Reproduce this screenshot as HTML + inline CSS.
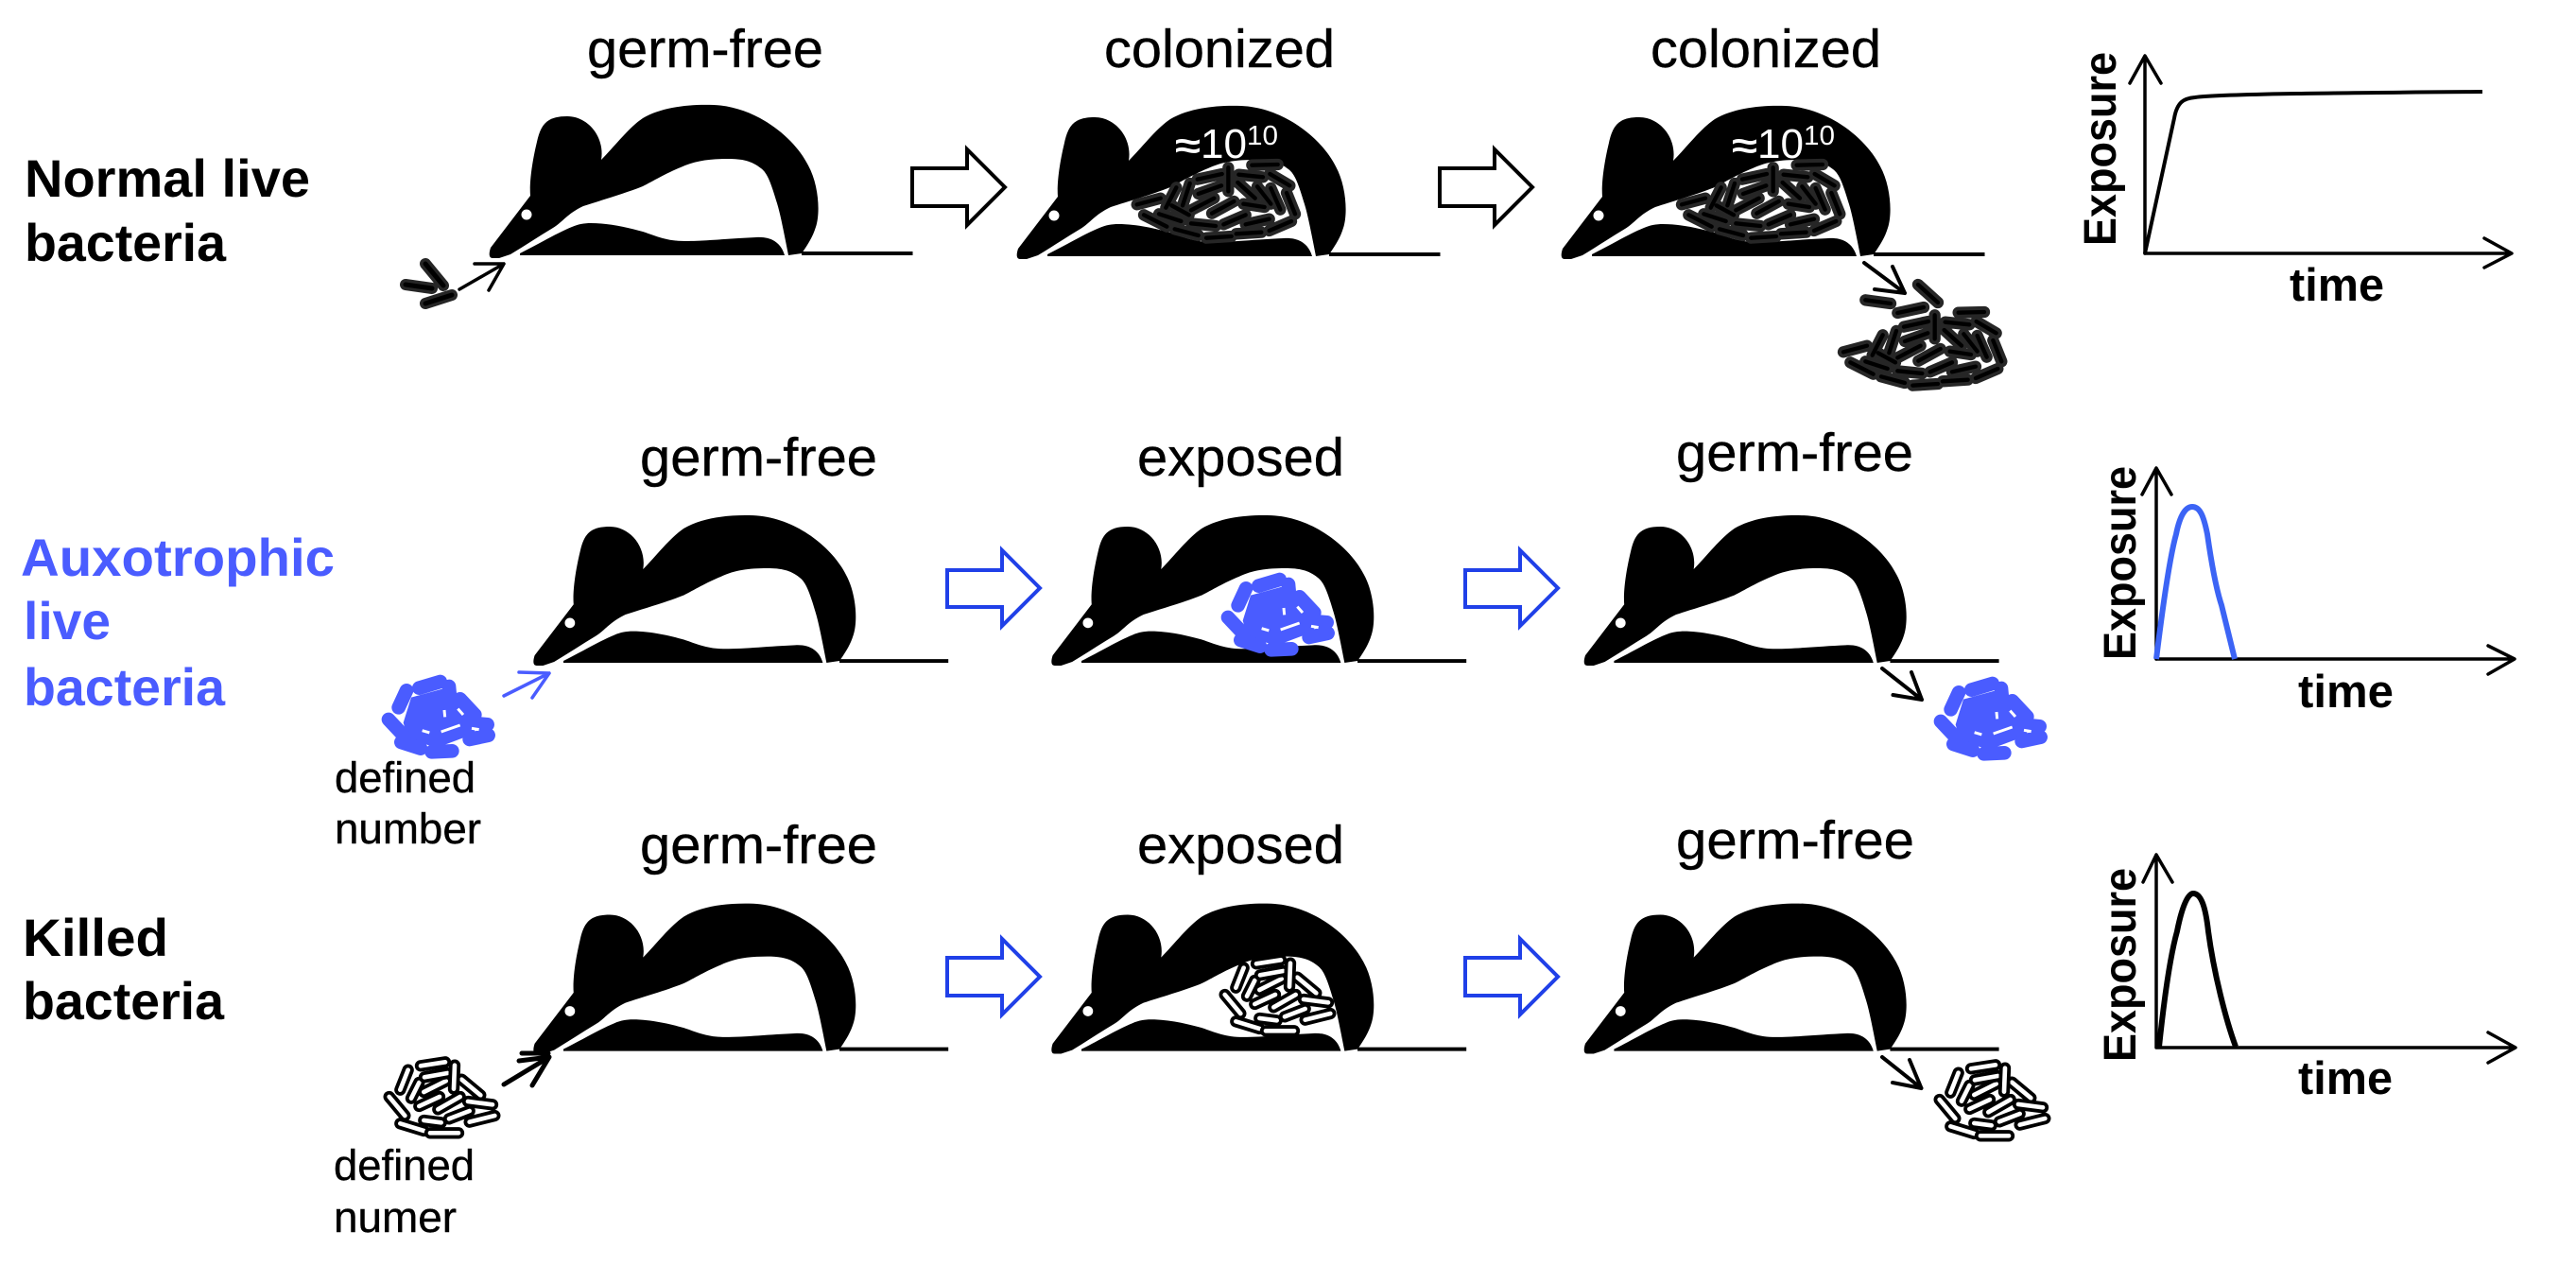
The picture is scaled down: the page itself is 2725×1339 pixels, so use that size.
<!DOCTYPE html>
<html><head><meta charset="utf-8"><style>
html,body{margin:0;padding:0;background:#fff}
svg{display:block}
text{font-family:"Liberation Sans",sans-serif}
.t{font-size:57px;fill:#000;stroke:#000;stroke-width:.4}
.b{font-size:56px;font-weight:bold;fill:#000}
.bl{font-size:56px;font-weight:bold;fill:#4a5cff}
.d{font-size:45px;fill:#000;stroke:#000;stroke-width:.4}
.ex{font-size:48px;font-weight:bold;fill:#000}
.ti{font-size:49px;font-weight:bold;fill:#000}
.w{fill:#fff}
.a{fill:none;stroke:#000;stroke-linecap:round;stroke-linejoin:round}
</style></head><body>
<svg xmlns="http://www.w3.org/2000/svg" width="2725" height="1339" viewBox="0 0 2725 1339">
<defs>
<g id="mouse">
<path fill="#000" d="M521 273C517 273 517 268 519 262L561 207C560 195 562 175 568 150C572 132 578 123 600 123C622 123 640 145 636 169C650 155 665 135 680 125C700 113 730 110 755 111C800 113 840 145 855 175C866 195 868 225 863 240C860 250 855 258 848 268L834 270C830 250 826 228 822 215C816 195 812 183 805 178C795 170 785 168 770 168C750 168 735 170 720 177C705 183 690 192 680 197C660 205 635 212 617 218C600 226 595 235 585 241C570 250 555 260 540 269L528 273Z"/>
<path fill="#000" d="M550 268C570 258 590 246 605 240C612 237 618 236 625 236C645 236 665 241 680 245C695 250 705 255 725 255C745 255 775 252 800 251C815 250 826 256 830 270L550 270Z"/>
<circle cx="557" cy="227" r="5.5" fill="#fff"/>
<path d="M848 268H965.5" stroke="#000" stroke-width="4" fill="none"/>
</g>
<path id="cb" d="M425 167L507 165M383 197L460 205M482 195L545 232M350 175L350 250M252 212L330 195M255 258L328 232M228 225L205 295M185 238L152 302M60 292L135 272M380 222L435 272M442 235L485 290M485 240L515 308M535 255L562 322M232 310L305 272M298 320L368 282M398 290L465 300M335 355L405 325M405 355L480 338M480 375L550 345M375 385L455 380M280 398L360 393M180 370L255 390M232 352L310 360M130 322L200 345M82 325L155 362M170 295L225 325"/>
<path id="cfree" d="M130 127L210 138M232 168L315 150M297 78L360 135"/>
<g id="blackcol" fill="none" stroke-linecap="round">
<use href="#cb" stroke="#262626" stroke-width="37"/>
<use href="#cb" stroke="#000" stroke-width="13"/>
</g>
<g id="freecol" fill="none" stroke-linecap="round">
<use href="#cfree" stroke="#262626" stroke-width="37"/>
<use href="#cfree" stroke="#000" stroke-width="13"/>
</g>
<g id="whitecol" fill="none" stroke-linecap="round">
<g stroke-width="37">
<path stroke="#000" d="M160 225L215 232"/><path stroke="#fff" stroke-width="14" d="M160 225L215 232"/>
<path stroke="#000" d="M110 65L85 128"/><path stroke="#fff" stroke-width="14" d="M110 65L85 128"/>
<path stroke="#000" d="M145 105L120 155"/><path stroke="#fff" stroke-width="14" d="M145 105L120 155"/>
<path stroke="#000" d="M280 95L340 145"/><path stroke="#fff" stroke-width="14" d="M280 95L340 145"/>
<path stroke="#000" d="M50 150L100 210"/><path stroke="#fff" stroke-width="14" d="M50 150L100 210"/>
<path stroke="#000" d="M160 135L230 100"/><path stroke="#fff" stroke-width="14" d="M160 135L230 100"/>
<path stroke="#000" d="M162 88L235 75"/><path stroke="#fff" stroke-width="14" d="M162 88L235 75"/>
<path stroke="#000" d="M258 50L255 125"/><path stroke="#fff" stroke-width="14" d="M258 50L255 125"/>
<path stroke="#000" d="M150 52L228 40"/><path stroke="#fff" stroke-width="14" d="M150 52L228 40"/>
<path stroke="#000" d="M145 180L210 150"/><path stroke="#fff" stroke-width="14" d="M145 180L210 150"/>
<path stroke="#000" d="M300 165L378 175"/><path stroke="#fff" stroke-width="14" d="M300 165L378 175"/>
<path stroke="#000" d="M205 190L275 150"/><path stroke="#fff" stroke-width="14" d="M205 190L275 150"/>
<path stroke="#000" d="M305 230L385 210"/><path stroke="#fff" stroke-width="14" d="M305 230L385 210"/>
<path stroke="#000" d="M240 220L305 195"/><path stroke="#fff" stroke-width="14" d="M240 220L305 195"/>
<path stroke="#000" d="M85 235L160 258"/><path stroke="#fff" stroke-width="14" d="M85 235L160 258"/>
<path stroke="#000" d="M180 265L270 265"/><path stroke="#fff" stroke-width="14" d="M180 265L270 265"/>
</g></g>
<g id="bluecol" fill="none" stroke-linecap="round">
<path fill="#4a5cff" d="M120 110L230 80L300 130L330 175L320 225L200 270L110 240L95 190Z"/>
<path stroke="#4a5cff" stroke-width="44" d="M145 80L212 60M105 88L80 142M240 75L245 130M275 115L322 165M48 180L95 230M300 190L362 196M305 243L365 230M88 252L150 272M185 283L250 280"/>
<path stroke="#fff" stroke-width="9" stroke-linecap="butt" d="M215 219L275 198M225 150L227 172M268 146L285 165M155 215L178 222M312 208L335 212"/>
</g>
</defs>

<!-- Row labels -->
<text class="b" x="26" y="208" textLength="302" lengthAdjust="spacingAndGlyphs">Normal live</text>
<text class="b" x="26" y="276" textLength="213" lengthAdjust="spacingAndGlyphs">bacteria</text>
<text class="bl" x="22" y="609" textLength="332" lengthAdjust="spacingAndGlyphs">Auxotrophic</text>
<text class="bl" x="25" y="676" textLength="92" lengthAdjust="spacingAndGlyphs">live</text>
<text class="bl" x="25" y="746" textLength="213" lengthAdjust="spacingAndGlyphs">bacteria</text>
<text class="b" x="24" y="1011" textLength="154" lengthAdjust="spacingAndGlyphs">Killed</text>
<text class="b" x="24" y="1078" textLength="213" lengthAdjust="spacingAndGlyphs">bacteria</text>

<!-- Titles -->
<text class="t" x="621" y="71" textLength="250" lengthAdjust="spacingAndGlyphs">germ-free</text>
<text class="t" x="1168" y="71" textLength="244" lengthAdjust="spacingAndGlyphs">colonized</text>
<text class="t" x="1746" y="71" textLength="244" lengthAdjust="spacingAndGlyphs">colonized</text>
<text class="t" x="677" y="503" textLength="251" lengthAdjust="spacingAndGlyphs">germ-free</text>
<text class="t" x="1203" y="503" textLength="219" lengthAdjust="spacingAndGlyphs">exposed</text>
<text class="t" x="1773" y="498" textLength="251" lengthAdjust="spacingAndGlyphs">germ-free</text>
<text class="t" x="677" y="913" textLength="251" lengthAdjust="spacingAndGlyphs">germ-free</text>
<text class="t" x="1203" y="913" textLength="219" lengthAdjust="spacingAndGlyphs">exposed</text>
<text class="t" x="1773" y="908" textLength="252" lengthAdjust="spacingAndGlyphs">germ-free</text>

<text class="d" x="354" y="838" textLength="149" lengthAdjust="spacingAndGlyphs">defined</text>
<text class="d" x="354" y="892" textLength="155" lengthAdjust="spacingAndGlyphs">number</text>
<text class="d" x="353" y="1248" textLength="149" lengthAdjust="spacingAndGlyphs">defined</text>
<text class="d" x="353" y="1303" textLength="130" lengthAdjust="spacingAndGlyphs">numer</text>

<!-- Mice -->
<use href="#mouse"/>
<use href="#mouse" transform="translate(558 1)"/>
<use href="#mouse" transform="translate(1134 1)"/>
<use href="#mouse" transform="translate(57 436.4) scale(.98)"/>
<use href="#mouse" transform="translate(605 436.4) scale(.98)"/>
<use href="#mouse" transform="translate(1168.4 436.4) scale(.98)"/>
<use href="#mouse" transform="translate(57 847) scale(.98)"/>
<use href="#mouse" transform="translate(605 847) scale(.98)"/>
<use href="#mouse" transform="translate(1168.4 847) scale(.98)"/>

<!-- Colonies inside mice -->
<use href="#blackcol" transform="translate(1182.7 119) scale(.3333)"/>
<use href="#blackcol" transform="translate(1759 119) scale(.3333)"/>
<use href="#bluecol" transform="translate(1283 593) scale(.3333)"/>
<use href="#whitecol" transform="translate(1279 1002) scale(.3333)"/>

<!-- 10^10 labels -->
<g class="w">
<text x="1243" y="167" font-size="38" font-weight="bold" textLength="27" lengthAdjust="spacingAndGlyphs">≈</text>
<text x="1270" y="167" font-size="44" textLength="49" lengthAdjust="spacingAndGlyphs">10</text>
<text x="1319" y="153" font-size="29" textLength="33" lengthAdjust="spacingAndGlyphs">10</text>
<text x="1832" y="167" font-size="38" font-weight="bold" textLength="27" lengthAdjust="spacingAndGlyphs">≈</text>
<text x="1859" y="167" font-size="44" textLength="49" lengthAdjust="spacingAndGlyphs">10</text>
<text x="1908" y="153" font-size="29" textLength="33" lengthAdjust="spacingAndGlyphs">10</text>
</g>

<!-- Block arrows -->
<g fill="#fff" stroke="#000" stroke-width="4" stroke-linejoin="miter">
<path d="M965 178H1023V158L1063 198L1023 238V218H965Z"/>
<path d="M1523 178H1581V158L1621 198L1581 238V218H1523Z"/>
</g>
<g fill="#fff" stroke="#2040e8" stroke-width="4" stroke-linejoin="miter">
<path d="M1002 603H1060V582L1100 622L1060 662V642H1002Z"/>
<path d="M1550 603H1608V582L1648 622L1608 662V642H1550Z"/>
<path d="M1002 1013H1060V993L1100 1033L1060 1073V1053H1002Z"/>
<path d="M1550 1013H1608V993L1648 1033L1608 1073V1053H1550Z"/>
</g>

<!-- Small arrows -->
<g class="a" stroke-width="3.5">
<path d="M486 306L533 279M502 279H533L517 307"/>
<path d="M1972 278L2015 310M1983 306L2015 310L2002 282" stroke-width="4"/>
<path d="M1991 707L2033 740M2002.5 735L2033 740L2022 711" stroke-width="4"/>
<path d="M1991 1118L2032.5 1151M2002 1145L2032.5 1151L2020 1121" stroke-width="4"/>
<path d="M533 1147L581 1118M549 1122L581 1118L563 1148M552 1114H580" stroke-width="5"/>
</g>
<path d="M533 736L581 712M549 711L581 712L563 738" fill="none" stroke="#4a5cff" stroke-width="3.5" stroke-linecap="round" stroke-linejoin="round"/>

<!-- Free colonies -->
<use href="#freecol" transform="translate(1930 275) scale(.3333)"/>
<use href="#blackcol" transform="translate(1930 275) scale(.3333)"/>
<g fill="none" stroke-linecap="round">
<path d="M450 279L469 302M429 301L457 305M450 321L478 312" stroke="#262626" stroke-width="12"/>
<path d="M450 279L469 302M429 301L457 305M450 321L478 312" stroke="#000" stroke-width="5"/>
</g>
<use href="#bluecol" transform="translate(395 701) scale(.3333)"/>
<use href="#bluecol" transform="translate(2037 703) scale(.3333)"/>
<use href="#whitecol" transform="translate(395 1110) scale(.3333)"/>
<use href="#whitecol" transform="translate(2035 1113) scale(.3333)"/>

<!-- Graph 1 -->
<g class="a" stroke-width="3.5">
<path d="M2269 268V60M2253 88L2269 59L2286 88"/>
<path d="M2269 268H2656M2628 252L2657 268L2628 283"/>
</g>
<path d="M2269 268L2300 125C2303 108 2310 104 2322 103C2350 99 2500 98 2626 97" fill="none" stroke="#000" stroke-width="4"/>
<text class="ex" transform="translate(2238 260) rotate(-90)" x="0" y="0" textLength="205" lengthAdjust="spacingAndGlyphs">Exposure</text>
<text class="ti" x="2422" y="318" textLength="100" lengthAdjust="spacingAndGlyphs">time</text>

<!-- Graph 2 -->
<g class="a" stroke-width="3.5">
<path d="M2281 697V496M2266 523L2281 495L2297 523"/>
<path d="M2281 697H2659M2632 683L2660 697L2632 713"/>
</g>
<path d="M2281 697C2288 640 2295 590 2302 565C2306 545 2312 536 2319 536C2327 536 2331 545 2335 565C2340 600 2345 625 2350 640L2364 697" fill="none" stroke="#3c64f5" stroke-width="6"/>
<text class="ex" transform="translate(2259 698) rotate(-90)" x="0" y="0" textLength="205" lengthAdjust="spacingAndGlyphs">Exposure</text>
<text class="ti" x="2431" y="748" textLength="101" lengthAdjust="spacingAndGlyphs">time</text>

<!-- Graph 3 -->
<g class="a" stroke-width="3.5">
<path d="M2281 1107V905M2267 933L2281 904L2298 933"/>
<path d="M2281 1108H2660M2632 1092L2661 1108L2632 1124"/>
</g>
<path d="M2284 1107C2290 1050 2296 1010 2303 985C2308 960 2314 945 2320 945C2328 945 2333 958 2336 985C2342 1030 2355 1080 2365 1107" fill="none" stroke="#000" stroke-width="6"/>
<text class="ex" transform="translate(2259 1123) rotate(-90)" x="0" y="0" textLength="205" lengthAdjust="spacingAndGlyphs">Exposure</text>
<text class="ti" x="2431" y="1157" textLength="100" lengthAdjust="spacingAndGlyphs">time</text>
</svg>
</body></html>
